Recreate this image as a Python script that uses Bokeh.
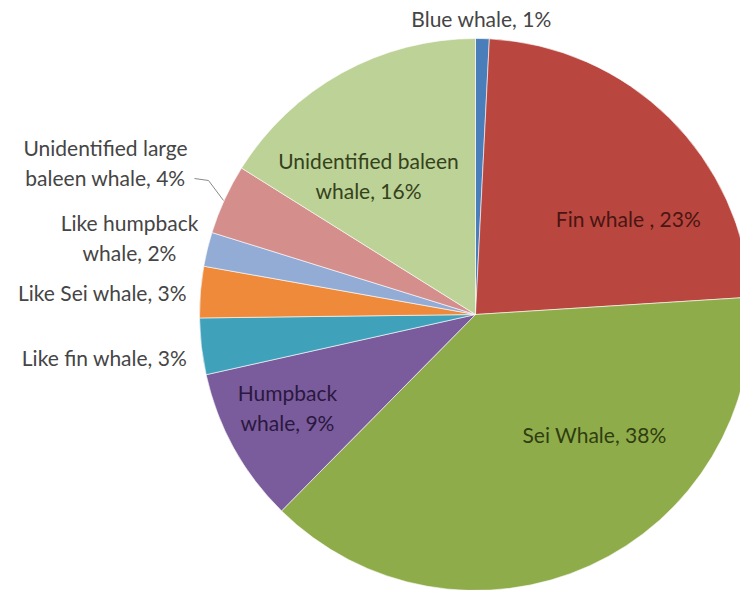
import math
from bokeh.plotting import figure
from bokeh.models import Range1d, ColumnDataSource
from bokeh.core.properties import value
from bokeh.embed import file_html
from bokeh.resources import INLINE

# ---- data ----
species = ["Blue whale", "Fin whale ", "Sei Whale", "Humpback whale", "Like fin whale",
           "Like Sei whale", "Like humpback whale", "Unidentified large baleen whale",
           "Unidentified baleen whale"]
shares = [0.8, 23.2, 38.4, 9.1, 3.3, 3.0, 2.0, 4.1, 16.1]
label_texts = ["Blue whale, 1%", "Fin whale , 23%", "Sei Whale, 38%", "Humpback\nwhale, 9%",
               "Like fin whale, 3%", "Like Sei whale, 3%", "Like humpback\nwhale, 2%",
               "Unidentified large\nbaleen whale, 4%", "Unidentified baleen\nwhale, 16%"]

# ---- styles / layout ----
colors = ["#4a7ebb", "#b9473f", "#8fac4a", "#7a5c9c", "#3fa2ba", "#ef8a3a",
          "#93acd6", "#d48f8d", "#bdd296"]
text_colors = ["#454545", "#4a1512", "#2f3d12", "#2a1840", "#454545", "#454545",
               "#454545", "#454545", "#34421c"]
W, H = 740, 590
cx, cy, R = 475, H - 314, 276
# label anchor positions in pixels (x, y from top)
label_pos = [(481, 18), (628, 218), (594, 434), (287, 407), (104, 357), (102, 292),
             (129, 237), (105, 162), (368, 175)]

total = sum(shares)
starts, ends = [], []
cum = 0.0
for s in shares:
    a0 = math.pi / 2 - 2 * math.pi * (cum + s) / total
    a1 = math.pi / 2 - 2 * math.pi * cum / total
    starts.append(a0)
    ends.append(a1)
    cum += s

src = ColumnDataSource(dict(start=starts, end=ends, color=colors, name=species))

p = figure(width=W, height=H, x_range=Range1d(0, W), y_range=Range1d(0, H),
           output_backend="svg", toolbar_location=None, min_border=0)
p.axis.visible = False
p.grid.visible = False
p.outline_line_color = None
p.background_fill_color = "white"

p.wedge(x=cx, y=cy, radius=R, start_angle="start", end_angle="end", color="color",
        line_color="white", line_width=0.6, source=src)

# leader line for the small unidentified large baleen slice
p.line(x=[194, 208, 223], y=[H - 178, H - 180, H - 200], line_color="#8a8a8a", line_width=1)

lx = [q[0] for q in label_pos]
ly = [H - q[1] for q in label_pos]
p.text(x=lx, y=ly, text=label_texts, text_color=text_colors,
       text_font=value("Lato"), text_font_size="21px",
       text_align="center", text_baseline="middle", text_line_height=1.17)

open("out.html", "w").write(file_html(p, INLINE))
